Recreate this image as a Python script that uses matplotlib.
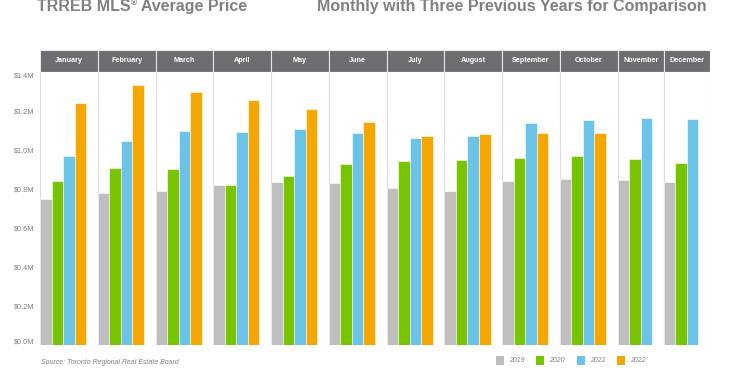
import matplotlib.pyplot as plt
from matplotlib.patches import Rectangle

plt.rcParams['font.family'] = ['Liberation Sans', 'DejaVu Sans']

# monthly average price, $M
months = ['January', 'February', 'March', 'April', 'May', 'June', 'July',
          'August', 'September', 'October', 'November', 'December']
years = ['2019', '2020', '2021', '2022']
colors = ['#bebebe', '#78c400', '#6cc3e8', '#f4a700']
p2019 = [0.747, 0.780, 0.788, 0.820, 0.838, 0.829, 0.807, 0.791, 0.843, 0.852, 0.845, 0.838]
p2020 = [0.839, 0.910, 0.902, 0.820, 0.866, 0.930, 0.944, 0.950, 0.961, 0.968, 0.955, 0.932]
p2021 = [0.968, 1.045, 1.098, 1.090, 1.108, 1.087, 1.061, 1.070, 1.136, 1.155, 1.163, 1.158]
p2022 = [1.243, 1.335, 1.300, 1.254, 1.212, 1.146, 1.074, 1.082, 1.087, 1.089, None, None]
yticks = [0.0, 0.2, 0.4, 0.6, 0.8, 1.0, 1.2, 1.4]
series = [p2019, p2020, p2021, p2022]

W, H = 730, 370
fig = plt.figure(figsize=(7.3, 3.7), dpi=100)
ax = fig.add_axes([40 / W, (H - 345) / H, 670 / W, (345 - 72) / H])
hx = fig.add_axes([40 / W, (H - 72) / H, 670 / W, (72 - 50) / H])

grey_txt = '#808080'
start = 0
bounds = [0]
for i, m in enumerate(months):
    vals = [s[i] for s in series if s[i] is not None]
    for j, v in enumerate(vals):
        ax.bar(start + j + 0.5, v, width=1, color=colors[j], edgecolor='white', linewidth=0.4)
    width = len(vals) + 1
    hx.add_patch(Rectangle((start, 0), width, 1, facecolor='#6d6e71', edgecolor='#e6e6e6', linewidth=0.8))
    hx.text(start + width / 2, 0.5, m, ha='center', va='center', color='white',
            fontsize=5.2, fontweight='bold')
    start += width
    bounds.append(start)

for b in bounds:
    ax.axvline(b, color='#dcdcdc', linewidth=0.8, zorder=0)

ax.set_xlim(0, start)
ax.set_ylim(0, 1.4)
ax.set_xticks([])
ax.set_yticks(yticks)
ax.set_yticklabels([f'${t:.1f}M' for t in yticks])
ax.tick_params(axis='y', length=0, pad=4, labelsize=5.3, labelcolor=grey_txt)
labels = ax.get_yticklabels()
labels[0].set_va('bottom')
labels[-1].set_va('top')
for sp in ax.spines.values():
    sp.set_visible(False)

hx.set_xlim(0, start)
hx.set_ylim(0, 1)
hx.axis('off')

# titles
fig.canvas.draw()
r = fig.canvas.get_renderer()
t1 = fig.text(37 / W, 1 - 6.5 / H, 'TRREB MLS', fontsize=11.5, fontweight='bold',
              color=grey_txt, va='center')
bb = t1.get_window_extent(r)
t2 = fig.text(bb.x1 / W + 0.5 / W, 1 - 3.5 / H, '®', fontsize=6, fontweight='bold',
              color=grey_txt, va='center')
bb2 = t2.get_window_extent(r)
fig.text(bb2.x1 / W, 1 - 6.5 / H, ' Average Price', fontsize=11.5, fontweight='bold',
         color=grey_txt, va='center')
fig.text(707 / W, 1 - 6.5 / H, 'Monthly with Three Previous Years for Comparison',
         fontsize=11.5, fontweight='bold', color=grey_txt, va='center', ha='right')

fig.text(41 / W, 1 - 363 / H, 'Source: Toronto Regional Real Estate Board',
         fontsize=5, style='italic', color=grey_txt, va='center')

# legend
for k, (yr, c) in enumerate(zip(years, colors)):
    x0 = 496 + k * 40.3
    fig.add_artist(Rectangle((x0 / W, 1 - 365 / H), 8 / W, 9 / H, facecolor=c,
                             edgecolor='none', transform=fig.transFigure))
    fig.text((x0 + 13) / W, 1 - 360.5 / H, yr, fontsize=5, style='italic',
             color=grey_txt, va='center')

fig.savefig('out.png', dpi=100)
